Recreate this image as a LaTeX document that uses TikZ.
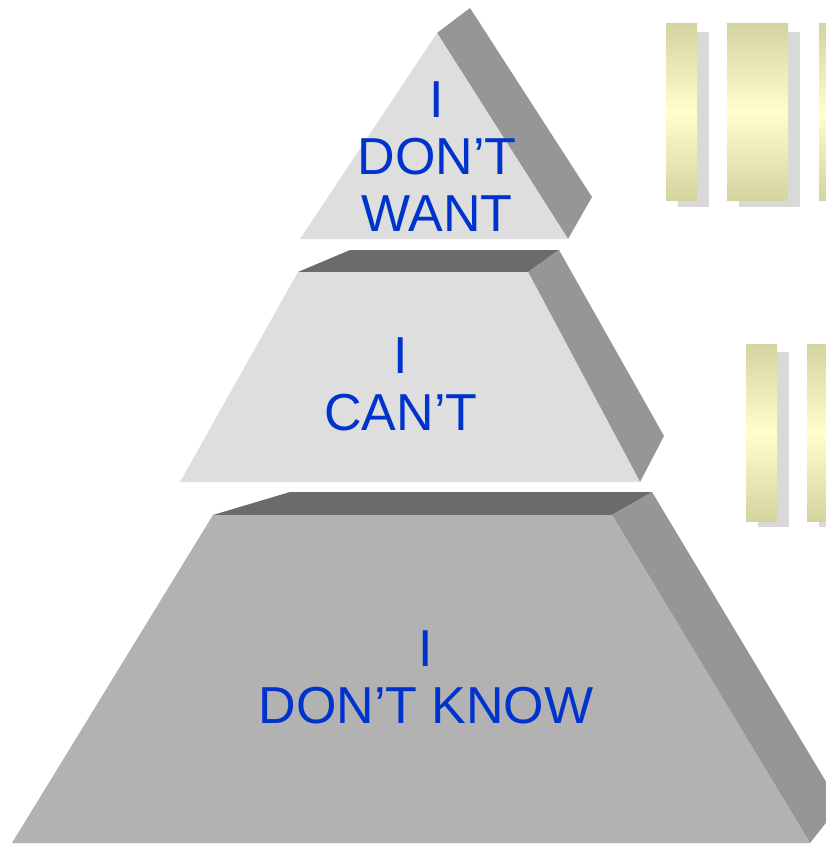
\documentclass[tikz,border=0pt]{standalone}
\usepackage{fontspec}
\setmainfont{Liberation Sans}
\usepackage{tikz}
\usetikzlibrary{positioning,calc}

\definecolor{textblue}{RGB}{0,51,204}
\definecolor{sidegray}{RGB}{150,150,150}
\definecolor{topgray}{RGB}{107,107,107}
\definecolor{palegray}{RGB}{222,222,222}
\definecolor{midgray}{RGB}{178,178,178}
\definecolor{barend}{RGB}{212,212,160}
\definecolor{barmid}{RGB}{255,255,204}
\definecolor{shadowgray}{RGB}{217,217,217}

\tikzset{
    label/.style={text=textblue, align=center, inner sep=0pt,
        font=\fontsize{52}{57}\selectfont},
    face/.style={draw=none},
    barshade/.style={top color=barend, bottom color=barend, middle color=barmid},
    barshadow/.style={fill=shadowgray}
}

\begin{document}
\begin{tikzpicture}[x=1pt,y=-1pt]
            \clip (0,0) rectangle (826,845);
            \fill[white] (0,0) rectangle (826,845);

            % top block
            \fill[face, sidegray] (437,33) -- (470,8) -- (592,197) -- (568,239) -- cycle;
            \fill[face, palegray] (437,33) -- (568,239) -- (300,239) -- cycle;
            \node[label] (want) at (437,157) {I\\DON’T\\WANT};

            % middle block
            \fill[face, topgray] (298,272) -- (350,250) -- (559,250) -- (528,272) -- cycle;
            \fill[face, sidegray] (528,272) -- (559,250) -- (664,436) -- (640,482) -- cycle;
            \fill[face, palegray] (298,272) -- (528,272) -- (640,482) -- (180,482) -- cycle;
            \node[label] (cant) at (401,384) {I\\CAN’T};

            % bottom block
            \fill[face, topgray] (213,515) -- (290,492) -- (652,492) -- (612,515) -- cycle;
            \fill[face, sidegray] (612,515) -- (652,492) -- (840,805) -- (810,843) -- cycle;
            \fill[face, midgray] (213,515) -- (612,515) -- (810,843) -- (12,843) -- cycle;
            \node[label] (know) at (426,677) {I\\DON’T KNOW};

            % bars
            \foreach \x/\w in {666/31, 727/61, 819/61} {
                \fill[barshadow] (\x+12,32) rectangle (\x+\w+12,207);
                \shade[barshade] (\x,24) rectangle (\x+\w,200);
            }
            \foreach \x/\w in {746/31, 807/61} {
                \fill[barshadow] (\x+12,352) rectangle (\x+\w+12,527);
                \shade[barshade] (\x,344) rectangle (\x+\w,521);
            }
        \end{tikzpicture}
\end{document}
